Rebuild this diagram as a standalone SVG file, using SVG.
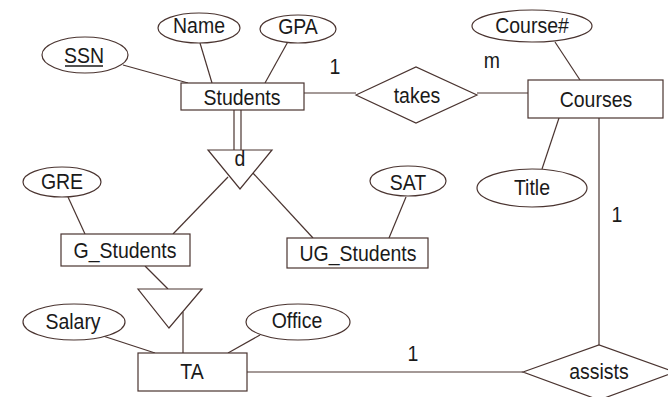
<svg xmlns="http://www.w3.org/2000/svg" width="668" height="397" viewBox="0 0 668 397">
<style>
.s{fill:#fff;stroke:#4a3430;stroke-width:1.2}
.c line{stroke:#4a3430;stroke-width:1.2;fill:none}
text{font-family:"Liberation Sans",Arial,sans-serif;font-size:19.5px;fill:#1a1a1a;text-anchor:middle;transform-box:fill-box;transform-origin:50% 78%;transform:scaleY(1.1)}
</style>
<rect width="668" height="397" fill="#fff"/>
<g class="c" id="connectors">
<line x1="123" y1="65" x2="188" y2="83"/>
<line x1="200" y1="43" x2="212" y2="83"/>
<line x1="290" y1="38" x2="265" y2="83"/>
<line x1="304" y1="93" x2="356" y2="93"/>
<line x1="477" y1="93" x2="528" y2="93"/>
<line x1="555" y1="42" x2="580" y2="80"/>
<line x1="559" y1="118" x2="542" y2="169"/>
<line x1="599" y1="118" x2="599" y2="345"/>
<line x1="247" y1="372" x2="523" y2="372"/>
<line x1="234" y1="110" x2="234" y2="152"/>
<line x1="241" y1="110" x2="241" y2="152"/>
<line x1="228" y1="177" x2="173" y2="234"/>
<line x1="252" y1="172" x2="313" y2="238"/>
<line x1="68" y1="197" x2="85" y2="234"/>
<line x1="406" y1="197" x2="389" y2="238"/>
<line x1="145" y1="266" x2="168" y2="289"/>
<line x1="183" y1="312" x2="183" y2="353"/>
<line x1="100" y1="335" x2="155" y2="353"/>
<line x1="260" y1="335" x2="228" y2="353"/>
</g>
<g id="SSN"><ellipse class="s" cx="85" cy="55" rx="43" ry="18"/><text x="84" y="63">SSN</text><line x1="65" y1="66" x2="103" y2="66" stroke="#1a1a1a" stroke-width="1.3"/></g>
<g id="Name"><ellipse class="s" cx="199" cy="28" rx="41" ry="15"/><text x="199" y="33">Name</text></g>
<g id="GPA"><ellipse class="s" cx="298" cy="29" rx="38" ry="14"/><text x="298" y="34">GPA</text></g>
<g id="Students"><rect class="s" x="181" y="83" width="123" height="27"/><text x="242" y="105">Students</text></g>
<g id="takes"><polygon class="s" points="356,95 416,67 477,95 416,123"/><text x="417" y="103">takes</text></g>
<g id="Courses"><rect class="s" x="528" y="80" width="135" height="38"/><text x="596" y="107">Courses</text></g>
<g id="CourseNo"><ellipse class="s" cx="532" cy="26" rx="60" ry="16"/><text x="532" y="33">Course#</text></g>
<g id="Title"><ellipse class="s" cx="532" cy="188" rx="55" ry="19"/><text x="532" y="195">Title</text></g>
<g id="isa"><polygon class="s" points="208,150 272,150 240,189"/><text x="240" y="166">d</text></g>
<g id="GRE"><ellipse class="s" cx="62" cy="182" rx="39" ry="15"/><text x="62" y="189">GRE</text></g>
<g id="SAT"><ellipse class="s" cx="408" cy="181" rx="38" ry="15"/><text x="408" y="190">SAT</text></g>
<g id="G_Students"><rect class="s" x="61" y="234" width="129" height="32"/><text x="125" y="258">G_Students</text></g>
<g id="UG_Students"><rect class="s" x="287" y="238" width="141" height="30"/><text x="358" y="261">UG_Students</text></g>
<g id="isa2"><polygon class="s" points="138,289 202,289 169,328"/></g>
<g id="Salary"><ellipse class="s" cx="74" cy="322" rx="51" ry="18"/><text x="73" y="329">Salary</text></g>
<g id="Office"><ellipse class="s" cx="298" cy="322" rx="52" ry="18"/><text x="297" y="328">Office</text></g>
<g id="TA"><rect class="s" x="138" y="353" width="109" height="38"/><text x="192" y="379">TA</text></g>
<g id="assists"><polygon class="s" points="523,372 599,345 675,372 599,400"/><text x="599" y="379">assists</text></g>
<g id="labels">
<text x="335" y="74">1</text>
<text x="492" y="68">m</text>
<text x="617" y="222">1</text>
<text x="413" y="361">1</text>
</g>
</svg>
